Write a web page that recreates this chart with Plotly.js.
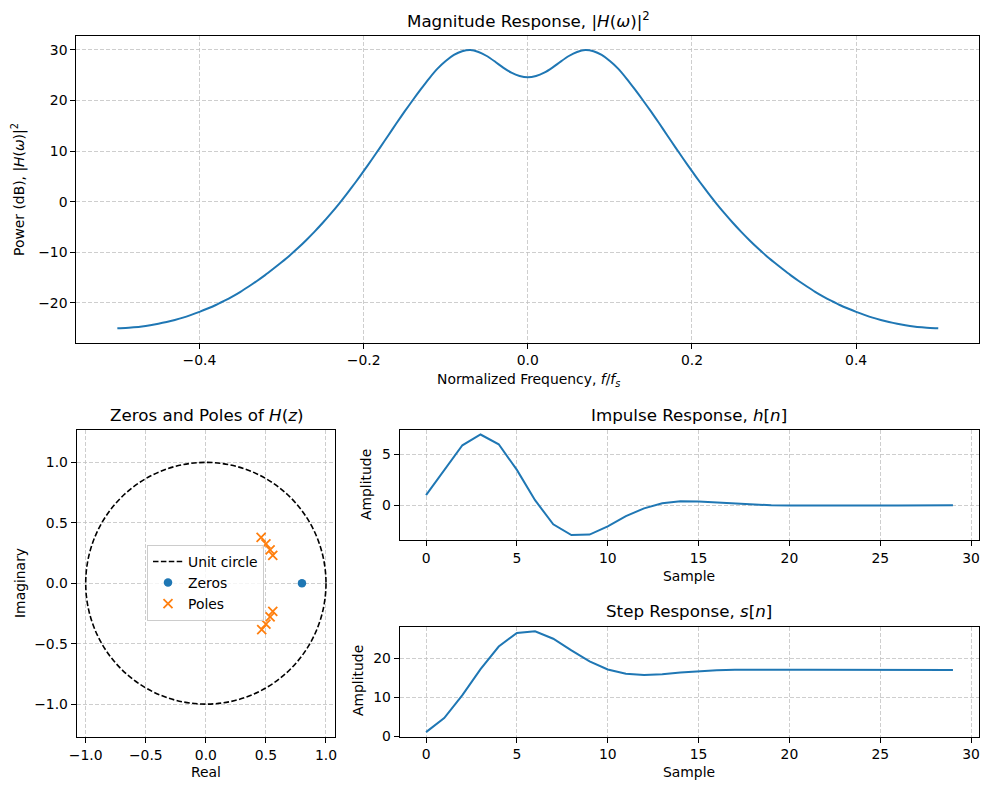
<!DOCTYPE html>
<html>
<head>
<meta charset="utf-8">
<script src="https://cdn.plot.ly/plotly-3.0.1.min.js"></script>
<style>html,body{margin:0;padding:0;background:#fff;}#chart{width:990px;height:790px;}</style>
</head>
<body>
<div id="chart"></div>
<script>
// ---------- data ----------
const freq = [-0.50,-0.49,-0.48,-0.47,-0.46,-0.45,-0.44,-0.43,-0.42,-0.41,-0.40,-0.39,-0.38,-0.37,-0.36,-0.35,-0.34,-0.33,-0.32,-0.31,
  -0.30,-0.29,-0.28,-0.27,-0.26,-0.25,-0.24,-0.23,-0.22,-0.21,-0.20,-0.19,-0.18,-0.17,-0.16,-0.15,-0.14,-0.13,-0.12,-0.11,
  -0.10,-0.09,-0.08,-0.07,-0.06,-0.05,-0.04,-0.03,-0.02,-0.01,0.00,0.01,0.02,0.03,0.04,0.05,0.06,0.07,0.08,0.09,
  0.10,0.11,0.12,0.13,0.14,0.15,0.16,0.17,0.18,0.19,0.20,0.21,0.22,0.23,0.24,0.25,0.26,0.27,0.28,0.29,
  0.30,0.31,0.32,0.33,0.34,0.35,0.36,0.37,0.38,0.39,0.40,0.41,0.42,0.43,0.44,0.45,0.46,0.47,0.48,0.49,0.50];
const powerDb = [-25.0,-24.95,-24.82,-24.65,-24.4,-24.1,-23.75,-23.35,-22.9,-22.35,-21.75,-21.1,-20.4,-19.6,-18.75,-17.8,-16.75,-15.65,-14.5,-13.25,
  -11.95,-10.6,-9.15,-7.6,-5.95,-4.2,-2.35,-0.4,1.65,3.8,6.05,8.35,10.7,13.1,15.5,17.85,20.1,22.3,24.4,26.3,
  27.8,29.0,29.75,30.0,29.6,28.8,27.7,26.5,25.5,24.85,24.6,24.85,25.5,26.5,27.7,28.8,29.6,30.0,29.75,29.0,
  27.8,26.3,24.4,22.3,20.1,17.85,15.5,13.1,10.7,8.35,6.05,3.8,1.65,-0.4,-2.35,-4.2,-5.95,-7.6,-9.15,-10.6,
  -11.95,-13.25,-14.5,-15.65,-16.75,-17.8,-18.75,-19.6,-20.4,-21.1,-21.75,-22.35,-22.9,-23.35,-23.75,-24.1,-24.4,-24.65,-24.82,-24.95,-25.0];

const zeroReal = [0.80];
const zeroImag = [0.00];
const poleReal = [0.46, 0.50, 0.535, 0.557, 0.557, 0.535, 0.50, 0.465];
const poleImag = [0.38, 0.325, 0.277, 0.23, -0.232, -0.278, -0.338, -0.383];
const unitRadius = 1;

const samples = [0,1,2,3,4,5,6,7,8,9,10,11,12,13,14,15,16,17,18,19,20,21,22,23,24,25,26,27,28,29];
const impulse = [1.0,3.4,5.85,6.9,5.95,3.45,0.5,-1.85,-2.9,-2.85,-2.05,-1.05,-0.3,0.2,0.4,0.38,0.27,0.15,0.06,0.0,-0.03,-0.04,-0.04,-0.03,-0.02,-0.01,-0.01,0.0,0.0,0.0];
const step = [1.0,4.6,10.5,17.2,23.0,26.5,26.9,25.0,22.0,19.2,17.1,16.0,15.7,15.9,16.3,16.65,16.9,17.05,17.1,17.1,17.05,17.02,17.0,17.0,17.0,17.0,17.0,17.0,17.0,17.0];

// ---------- styling helpers ----------
const W = 990, H = 790;
const px = x => x / W;
const py = y => 1 - y / H;
const BLUE = '#1f77b4', ORANGE = '#ff7f0e';
const FS = 13.9, TFS = 16.7;

function ax(o) {
  return Object.assign({
    showline: true, mirror: true, linecolor: '#000', linewidth: 1,
    ticks: 'outside', ticklen: 5, tickwidth: 1, tickcolor: '#000',
    showgrid: true, gridcolor: '#c2c2c2', griddash: '4px,2px', gridwidth: 0.8,
    zeroline: false, tickfont: {size: FS, color: '#000'}, fixedrange: true
  }, o);
}

const traces = [
  {x: freq, y: powerDb, mode: 'lines', line: {color: BLUE, width: 2, shape: 'spline', smoothing: 0.6},
   xaxis: 'x', yaxis: 'y', showlegend: false},
  {x: [null], y: [null], mode: 'lines', name: 'Unit circle',
   line: {color: '#000', width: 1.6, dash: '5.5px,2.4px'}, xaxis: 'x2', yaxis: 'y2'},
  {x: zeroReal, y: zeroImag, mode: 'markers', name: 'Zeros',
   marker: {color: BLUE, size: 8.5, symbol: 'circle'}, xaxis: 'x2', yaxis: 'y2'},
  {x: poleReal, y: poleImag, mode: 'markers', name: 'Poles',
   marker: {color: ORANGE, size: 9, symbol: 'x-thin', line: {color: ORANGE, width: 1.8}}, xaxis: 'x2', yaxis: 'y2'},
  {x: samples, y: impulse, mode: 'lines', line: {color: BLUE, width: 2},
   xaxis: 'x3', yaxis: 'y3', showlegend: false},
  {x: samples, y: step, mode: 'lines', line: {color: BLUE, width: 2},
   xaxis: 'x4', yaxis: 'y4', showlegend: false}
];

function label(text, x, y, size, angle) {
  return {text: text, x: px(x), y: py(y), xref: 'paper', yref: 'paper', showarrow: false,
          xanchor: 'center', yanchor: 'middle', textangle: angle || 0,
          font: {size: size, color: '#000', family: 'DejaVu Sans'}};
}

const layout = {
  width: W, height: H,
  margin: {l: 0, r: 0, t: 0, b: 0},
  paper_bgcolor: '#fff', plot_bgcolor: '#fff',
  font: {family: 'DejaVu Sans', size: FS, color: '#000'},
  showlegend: true,
  legend: {x: px(147), y: py(545), xanchor: 'left', yanchor: 'top',
           bgcolor: 'rgba(255,255,255,0.8)', bordercolor: '#cccccc', borderwidth: 1,
           font: {size: FS, color: '#000'}, tracegroupgap: 0},
  xaxis: ax({domain: [px(76.3), px(979.3)], range: [-0.55, 0.55], tick0: 0, dtick: 0.2, tickformat: '.1f', anchor: 'y'}),
  yaxis: ax({domain: [py(342.7), py(36)], range: [-27.85, 32.75], tick0: 0, dtick: 10, anchor: 'x'}),
  xaxis2: ax({domain: [px(76.7), px(335)], range: [-1.075, 1.075], tick0: 0, dtick: 0.5, tickformat: '.1f', anchor: 'y2'}),
  yaxis2: ax({domain: [py(737), py(430)], range: [-1.272, 1.268], tick0: 0, dtick: 0.5, tickformat: '.1f', anchor: 'x2'}),
  xaxis3: ax({domain: [px(399.7), px(979.3)], range: [-1.45, 30.45], tick0: 0, dtick: 5, anchor: 'y3'}),
  yaxis3: ax({domain: [py(540), py(430.3)], range: [-3.38, 7.31], tick0: 0, dtick: 5, anchor: 'x3'}),
  xaxis4: ax({domain: [px(399.7), px(979.3)], range: [-1.45, 30.45], tick0: 0, dtick: 5, anchor: 'y4'}),
  yaxis4: ax({domain: [py(736.7), py(626.7)], range: [-0.18, 28.1], tick0: 0, dtick: 10, anchor: 'x4'}),
  shapes: [
    {type: 'circle', xref: 'x2', yref: 'y2', x0: -unitRadius, y0: -unitRadius, x1: unitRadius, y1: unitRadius,
     line: {color: '#000', width: 1.6, dash: '5.5px,2.4px'}, layer: 'above'}
  ],
  annotations: [
    label('Magnitude Response, |<i>H</i>(<i>ω</i>)|<sup>2</sup>', 528, 20, TFS),
    label('Normalized Frequency, <i>f</i>/<i>f</i><sub><i>s</i></sub>', 528, 380, FS),
    label('Power (dB), |<i>H</i>(<i>ω</i>)|<sup>2</sup>', 19, 190, FS, -90),
    label('Zeros and Poles of <i>H</i>(<i>z</i>)', 206, 415, TFS),
    label('Real', 206, 772, FS),
    label('Imaginary', 20, 583, FS, -90),
    label('Impulse Response, <i>h</i>[<i>n</i>]', 689, 415, TFS),
    label('Sample', 689, 576, FS),
    label('Amplitude', 366, 485, FS, -90),
    label('Step Response, <i>s</i>[<i>n</i>]', 689, 611, TFS),
    label('Sample', 689, 772, FS),
    label('Amplitude', 358, 681, FS, -90)
  ]
};

Plotly.newPlot('chart', traces, layout, {displayModeBar: false, staticPlot: true});
</script>
</body>
</html>
